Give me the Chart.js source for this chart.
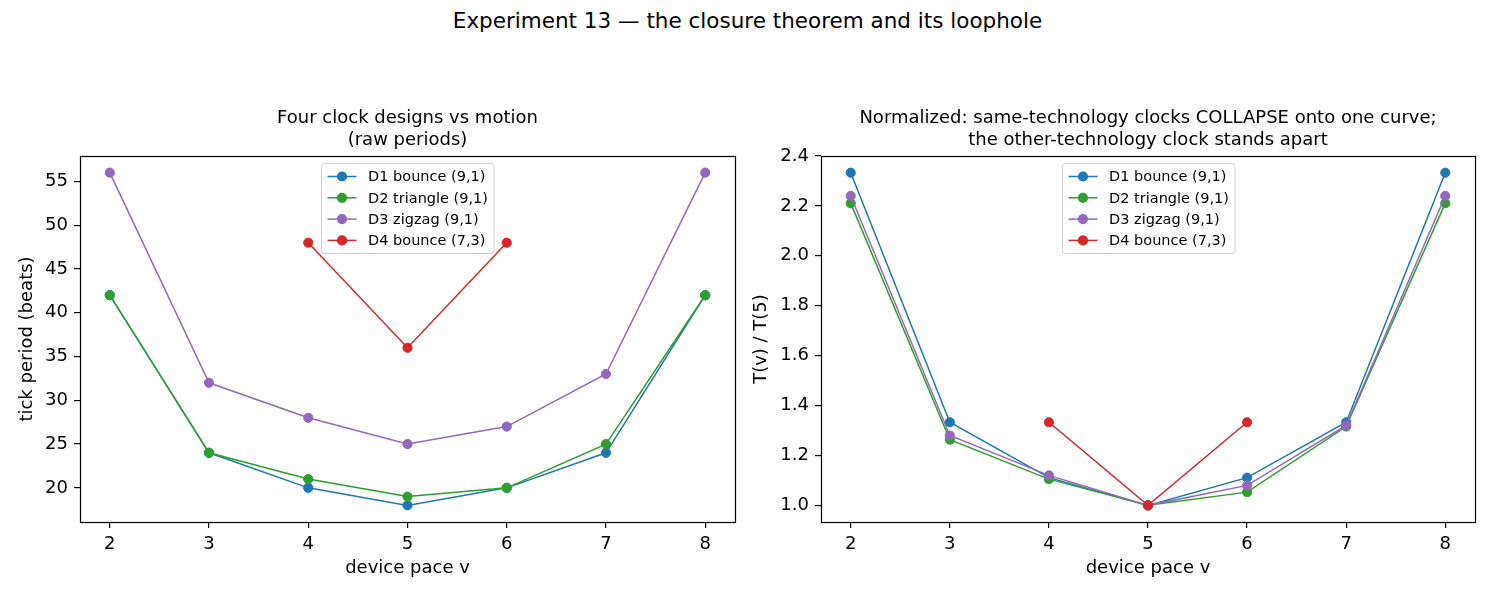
<!DOCTYPE html>
<html>
<head>
<meta charset="utf-8">
<script src="https://cdn.jsdelivr.net/npm/chart.js@4.4.1/dist/chart.umd.min.js"></script>
<style>
  body { margin: 0; background: #fff; width: 1495px; height: 598px; overflow: hidden; position: relative; font-family: 'DejaVu Sans', sans-serif; }
  #suptitle { position: absolute; left: 0; width: 1495px; top: 8px; line-height: 26px; text-align: center; font-size: 21.5px; color: #000; }
  .panel { position: absolute; top: 100px; height: 498px; }
</style>
</head>
<body>
<div id="suptitle">Experiment 13 — the closure theorem and its loophole</div>
<div class="panel" style="left:0;width:760px"><canvas id="rawChart" width="760" height="498"></canvas></div>
<div class="panel" style="left:745px;width:750px"><canvas id="normChart" width="750" height="498"></canvas></div>
<script>
// device paces (x axis)
const paces = [2, 3, 4, 5, 6, 7, 8];
const d4Paces = [4, 5, 6];

// raw tick periods (beats)
const rawD1 = [42, 24, 20, 18, 20, 24, 42];
const rawD2 = [42, 24, 21, 19, 20, 25, 42];
const rawD3 = [56, 32, 28, 25, 27, 33, 56];
const rawD4 = [48, 36, 48];

// normalized T(v) / T(5)
const normD1 = [2.333, 1.333, 1.111, 1.0, 1.111, 1.333, 2.333];
const normD2 = [2.211, 1.263, 1.105, 1.0, 1.053, 1.316, 2.211];
const normD3 = [2.24, 1.28, 1.12, 1.0, 1.08, 1.32, 2.24];
const normD4 = [1.333, 1.0, 1.333];

const labels = ['D1 bounce (9,1)', 'D2 triangle (9,1)', 'D3 zigzag (9,1)', 'D4 bounce (7,3)'];
const colors = ['#1f77b4', '#2ca02c', '#9467bd', '#d62728'];

const xTicks = [2, 3, 4, 5, 6, 7, 8];
const rawYTicks = [20, 25, 30, 35, 40, 45, 50, 55];
const normYTicks = [1.0, 1.2, 1.4, 1.6, 1.8, 2.0, 2.2, 2.4];

const FONT = "'DejaVu Sans', sans-serif";
const FS = 18;

function toPoints(xs, ys) {
    return xs.map((x, i) => ({ x: x, y: ys[i] }));
}

function makeSets(series) {
    // later series drawn on top, like matplotlib
    return series.map((s, i) => ({
        label: labels[i],
        data: toPoints(s.xs, s.ys),
        borderColor: colors[i],
        backgroundColor: colors[i],
        pointBackgroundColor: colors[i],
        pointBorderColor: colors[i],
        borderWidth: 1.5,
        pointRadius: 4.6,
        pointBorderWidth: 1,
        pointHoverRadius: 4.6,
        tension: 0,
        order: series.length - i
    }));
}

// frame + legend inside the plot, upper centre
const boxAndLegend = {
    id: 'boxAndLegend',
    afterDraw(chart) {
        const { ctx, chartArea } = chart;
        ctx.save();
        ctx.strokeStyle = '#000';
        ctx.lineWidth = 1.2;
        ctx.strokeRect(Math.round(chartArea.left) + 0.5, Math.round(chartArea.top) + 0.5,
            Math.round(chartArea.right - chartArea.left), Math.round(chartArea.bottom - chartArea.top));

        const sets = chart.data.datasets;
        const lfs = 14.5;
        ctx.font = lfs + 'px ' + FONT;
        const rowH = 21.3, padL = 6, lineW = 29, gap = 11.6, padR = 6;
        const textW = Math.max(...sets.map(d => ctx.measureText(d.label).width));
        const w = padL + lineW + gap + textW + padR;
        const h = 90;
        const x0 = Math.round((chartArea.left + chartArea.right) / 2 - w / 2) + 0.5;
        const y0 = Math.round(chartArea.top + 7) + 0.5;

        ctx.beginPath();
        ctx.roundRect(x0, y0, w, h, 3);
        ctx.fillStyle = 'rgba(255,255,255,0.8)';
        ctx.fill();
        ctx.strokeStyle = '#d0d0d0';
        ctx.lineWidth = 1;
        ctx.stroke();

        sets.forEach((d, i) => {
            const y = y0 + 13 + i * rowH;
            ctx.strokeStyle = d.borderColor;
            ctx.lineWidth = 1.5;
            ctx.beginPath();
            ctx.moveTo(x0 + padL, y);
            ctx.lineTo(x0 + padL + lineW, y);
            ctx.stroke();
            ctx.fillStyle = d.borderColor;
            ctx.beginPath();
            ctx.arc(x0 + padL + lineW / 2, y, 5.1, 0, Math.PI * 2);
            ctx.fill();
            ctx.fillStyle = '#000';
            ctx.textBaseline = 'middle';
            ctx.fillText(d.label, x0 + padL + lineW + gap, y + 1);
        });
        ctx.restore();
    }
};

function axisBase(ticks, fmt) {
    return {
        type: 'linear',
        afterBuildTicks: s => { s.ticks = ticks.map(v => ({ value: v })); },
        ticks: { color: '#000', font: { family: FONT, size: FS }, padding: 6, autoSkip: false, maxRotation: 0, callback: fmt },
        grid: { display: true, drawOnChartArea: false, drawTicks: true, tickLength: 6, color: '#000', lineWidth: 1.2 },
        border: { display: false }
    };
}

function makeChart(id, title, yTitle, series, yMin, yMax, yTicks, yFmt, yWidth, yTitlePad, padRight) {
    const x = axisBase(xTicks, v => String(v));
    x.min = 1.7; x.max = 8.3;
    x.title = { display: true, text: 'device pace v', color: '#000', font: { family: FONT, size: FS, lineHeight: 1.2 }, padding: { top: 0, bottom: 19.2 } };
    x.afterFit = s => { s.height = 76; };

    const y = axisBase(yTicks, yFmt);
    y.min = yMin; y.max = yMax;
    y.title = { display: true, text: yTitle, color: '#000', font: { family: FONT, size: FS, lineHeight: 1.2 }, padding: { top: yTitlePad, bottom: 0 } };
    y.afterFit = s => { s.width = yWidth; };

    return new Chart(document.getElementById(id), {
        type: 'line',
        data: { datasets: makeSets(series) },
        options: {
            responsive: false,
            animation: false,
            layout: { padding: { left: 0, right: padRight, top: 0, bottom: 0 } },
            scales: { x: x, y: y },
            plugins: {
                legend: { display: false },
                tooltip: { enabled: false },
                title: {
                    display: true,
                    fullSize: false,
                    text: title,
                    color: '#000',
                    font: { family: FONT, size: FS, weight: 'normal', lineHeight: 1.2 },
                    padding: { top: 8, bottom: 4.8 }
                }
            }
        },
        plugins: [boxAndLegend]
    });
}

makeChart('rawChart',
    ['Four clock designs vs motion', '(raw periods)'],
    'tick period (beats)',
    [
        { xs: paces, ys: rawD1 },
        { xs: paces, ys: rawD2 },
        { xs: paces, ys: rawD3 },
        { xs: d4Paces, ys: rawD4 }
    ],
    16.1, 57.9, rawYTicks, v => String(v), 80, 16.2, 25);

makeChart('normChart',
    ['Normalized: same-technology clocks COLLAPSE onto one curve;', 'the other-technology clock stands apart'],
    'T(v) / T(5)',
    [
        { xs: paces, ys: normD1 },
        { xs: paces, ys: normD2 },
        { xs: paces, ys: normD3 },
        { xs: d4Paces, ys: normD4 }
    ],
    0.9333, 2.4, normYTicks, v => v.toFixed(1), 76, 5.2, 20);
</script>
</body>
</html>
